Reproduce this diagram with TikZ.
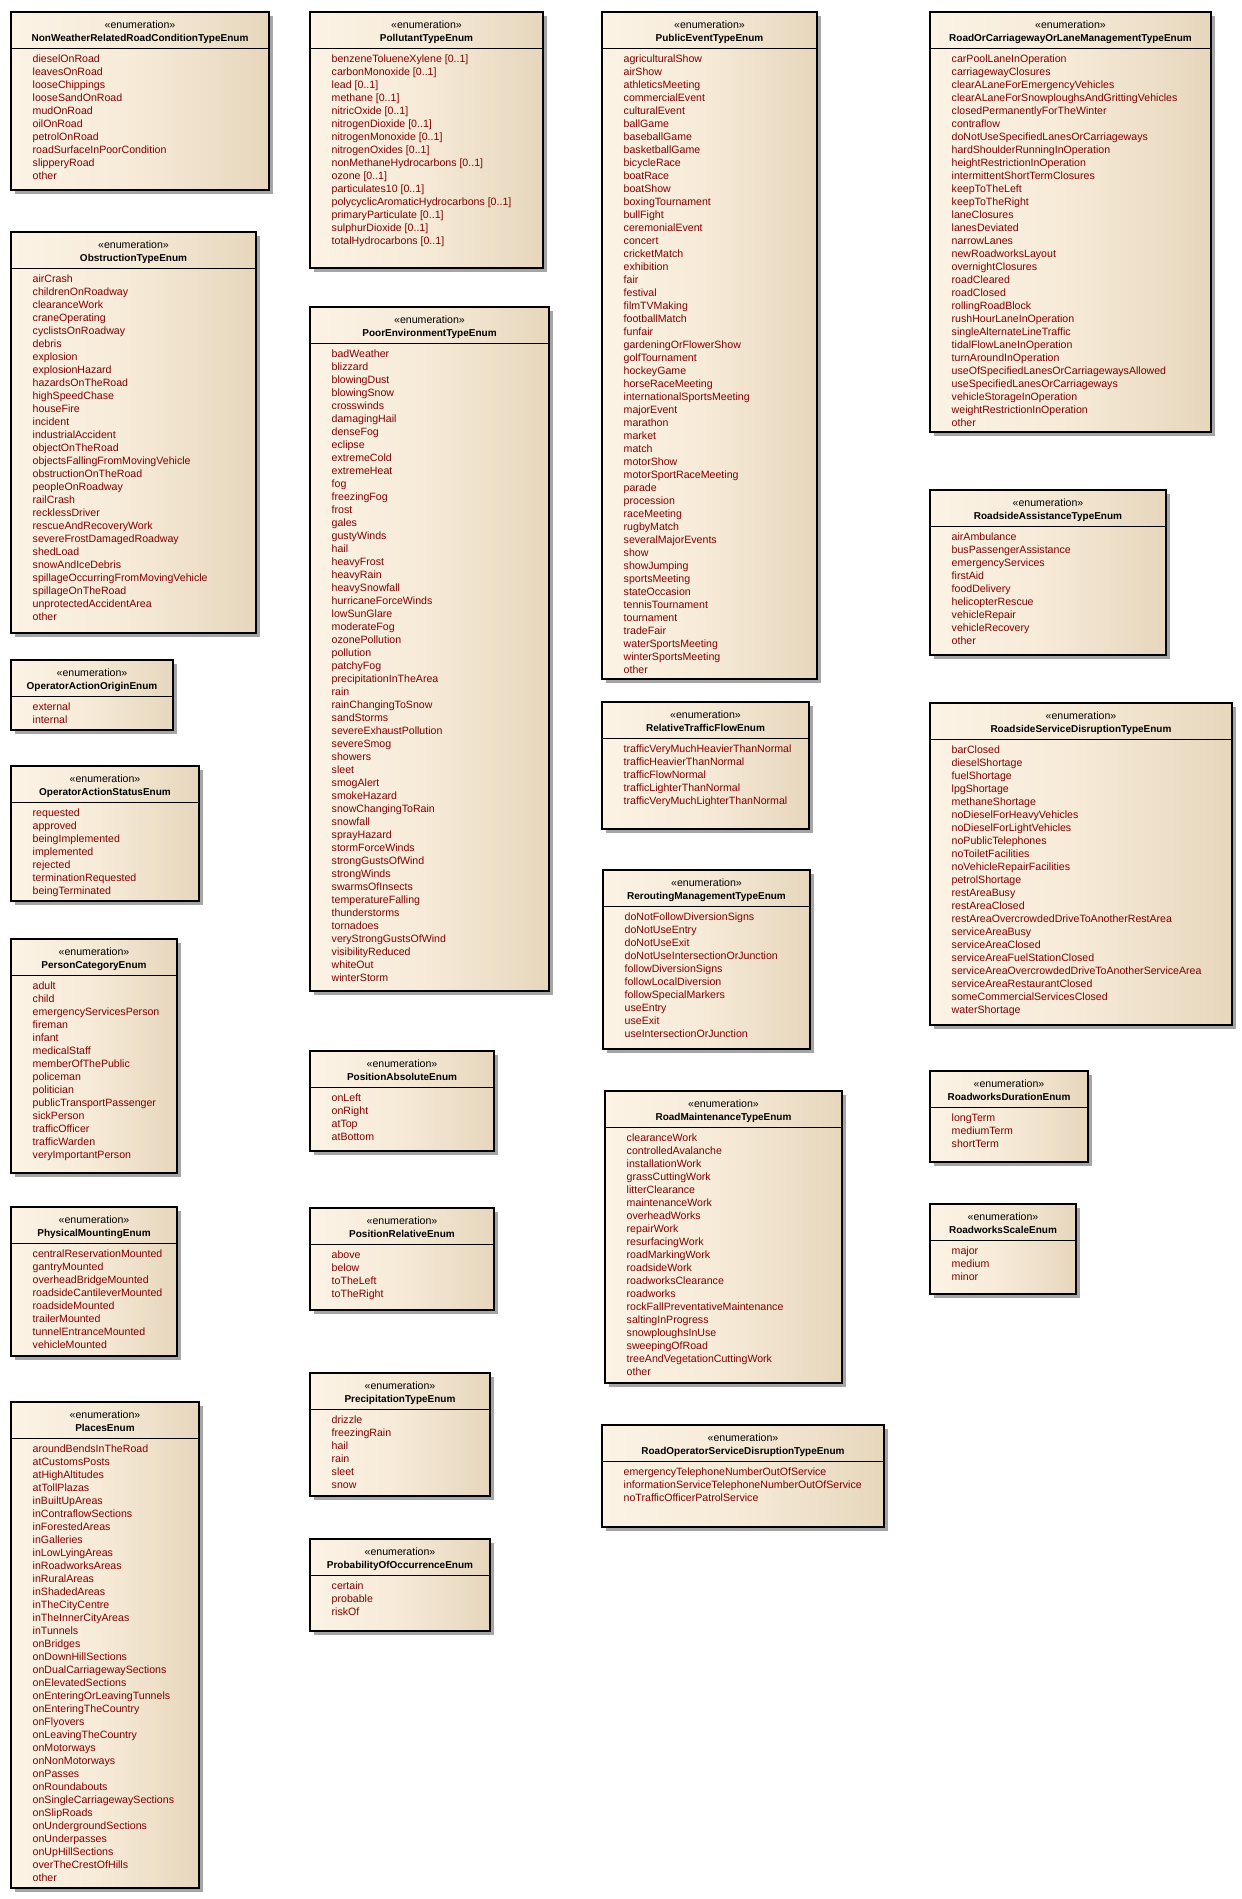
\documentclass[tikz,border=0pt]{standalone}
\usepackage{fontspec}
\setmainfont{Liberation Sans}
\usetikzlibrary{calc}
\definecolor{boxleft}{RGB}{252,243,229}
\definecolor{boxmid}{RGB}{246,234,215}
\definecolor{boxright}{RGB}{230,214,188}
\definecolor{shadowgray}{RGB}{165,165,165}
\definecolor{itemred}{RGB}{128,0,0}
\tikzset{
  enumbox/.style={draw=black, line width=1.1pt, left color=boxleft, right color=boxright, middle color=boxmid, inner sep=0pt, outer sep=0pt},
  stereo/.style={font=\fontsize{10.6}{13}\selectfont, text=black, inner sep=0pt, anchor=base},
  enumname/.style={font=\fontsize{10}{13}\selectfont\bfseries, text=black, inner sep=0pt, anchor=base},
  enumitem/.style={font=\fontsize{10.6}{13}\selectfont, text=itemred, inner sep=0pt, anchor=base west},
  sepline/.style={draw=black, line width=0.9pt},
  boxshadow/.style={fill=shadowgray},
}
\newcommand{\enumbox}[7]{%
  \fill[boxshadow] ({#2+4},{#3+4}) rectangle ({#4+4},{#5+4});
  \node[enumbox, anchor=north west, minimum width={(#4)-(#2)}, minimum height={(#5)-(#3)}] (#1) at (#2,#3) {};
  \draw[sepline] ([yshift=-36.5pt]#1.north west) -- ([yshift=-36.5pt]#1.north east);
  \node[stereo] (#1-stereo) at ([yshift=-16pt]#1.north) {«enumeration»};
  \node[enumname] (#1-name) at ([yshift=-29pt]#1.north) {#6};
  \foreach \t [count=\i] in {#7} {
    \node[enumitem] (#1-\i) at ([xshift=21.5pt, yshift={-50.5pt-(\i-1)*13pt}]#1.north west) {\t};
  }
}
\begin{document}
\begin{tikzpicture}[x=1pt, y=-1pt]
\fill[white] (0,0) rectangle (1242,1899);
\useasboundingbox (0,0) rectangle (1242,1899);

% Column 1
\enumbox{nonweather}{11}{12}{269}{190}{NonWeatherRelatedRoadConditionTypeEnum}{dieselOnRoad, leavesOnRoad, looseChippings, looseSandOnRoad, mudOnRoad, oilOnRoad, petrolOnRoad, roadSurfaceInPoorCondition, slipperyRoad, other}
\enumbox{obstruction}{11}{232}{256}{633}{ObstructionTypeEnum}{airCrash, childrenOnRoadway, clearanceWork, craneOperating, cyclistsOnRoadway, debris, explosion, explosionHazard, hazardsOnTheRoad, highSpeedChase, houseFire, incident, industrialAccident, objectOnTheRoad, objectsFallingFromMovingVehicle, obstructionOnTheRoad, peopleOnRoadway, railCrash, recklessDriver, rescueAndRecoveryWork, severeFrostDamagedRoadway, shedLoad, snowAndIceDebris, spillageOccurringFromMovingVehicle, spillageOnTheRoad, unprotectedAccidentArea, other}
\enumbox{origin}{11}{660}{173}{730}{OperatorActionOriginEnum}{external, internal}
\enumbox{status}{11}{766}{199}{901}{OperatorActionStatusEnum}{requested, approved, beingImplemented, implemented, rejected, terminationRequested, beingTerminated}
\enumbox{person}{11}{939}{177}{1173}{PersonCategoryEnum}{adult, child, emergencyServicesPerson, fireman, infant, medicalStaff, memberOfThePublic, policeman, politician, publicTransportPassenger, sickPerson, trafficOfficer, trafficWarden, veryImportantPerson}
\enumbox{mounting}{11}{1207}{177}{1356}{PhysicalMountingEnum}{centralReservationMounted, gantryMounted, overheadBridgeMounted, roadsideCantileverMounted, roadsideMounted, trailerMounted, tunnelEntranceMounted, vehicleMounted}
\enumbox{places}{11}{1402}{199}{1888}{PlacesEnum}{aroundBendsInTheRoad, atCustomsPosts, atHighAltitudes, atTollPlazas, inBuiltUpAreas, inContraflowSections, inForestedAreas, inGalleries, inLowLyingAreas, inRoadworksAreas, inRuralAreas, inShadedAreas, inTheCityCentre, inTheInnerCityAreas, inTunnels, onBridges, onDownHillSections, onDualCarriagewaySections, onElevatedSections, onEnteringOrLeavingTunnels, onEnteringTheCountry, onFlyovers, onLeavingTheCountry, onMotorways, onNonMotorways, onPasses, onRoundabouts, onSingleCarriagewaySections, onSlipRoads, onUndergroundSections, onUnderpasses, onUpHillSections, overTheCrestOfHills, other}

% Column 2
\enumbox{pollutant}{310}{12}{543}{268}{PollutantTypeEnum}{{benzeneTolueneXylene [0..1]}, {carbonMonoxide [0..1]}, {lead [0..1]}, {methane [0..1]}, {nitricOxide [0..1]}, {nitrogenDioxide [0..1]}, {nitrogenMonoxide [0..1]}, {nitrogenOxides [0..1]}, {nonMethaneHydrocarbons [0..1]}, {ozone [0..1]}, {particulates10 [0..1]}, {polycyclicAromaticHydrocarbons [0..1]}, {primaryParticulate [0..1]}, {sulphurDioxide [0..1]}, {totalHydrocarbons [0..1]}}
\enumbox{poorenv}{310}{307}{549}{991}{PoorEnvironmentTypeEnum}{badWeather, blizzard, blowingDust, blowingSnow, crosswinds, damagingHail, denseFog, eclipse, extremeCold, extremeHeat, fog, freezingFog, frost, gales, gustyWinds, hail, heavyFrost, heavyRain, heavySnowfall, hurricaneForceWinds, lowSunGlare, moderateFog, ozonePollution, pollution, patchyFog, precipitationInTheArea, rain, rainChangingToSnow, sandStorms, severeExhaustPollution, severeSmog, showers, sleet, smogAlert, smokeHazard, snowChangingToRain, snowfall, sprayHazard, stormForceWinds, strongGustsOfWind, strongWinds, swarmsOfInsects, temperatureFalling, thunderstorms, tornadoes, veryStrongGustsOfWind, visibilityReduced, whiteOut, winterStorm}
\enumbox{posabs}{310}{1051}{494}{1151}{PositionAbsoluteEnum}{onLeft, onRight, atTop, atBottom}
\enumbox{posrel}{310}{1208}{494}{1310}{PositionRelativeEnum}{above, below, toTheLeft, toTheRight}
\enumbox{precip}{310}{1373}{490}{1496}{PrecipitationTypeEnum}{drizzle, freezingRain, hail, rain, sleet, snow}
\enumbox{prob}{310}{1539}{490}{1631}{ProbabilityOfOccurrenceEnum}{certain, probable, riskOf}

% Column 3
\enumbox{publicevent}{602}{12}{817}{679}{PublicEventTypeEnum}{agriculturalShow, airShow, athleticsMeeting, commercialEvent, culturalEvent, ballGame, baseballGame, basketballGame, bicycleRace, boatRace, boatShow, boxingTournament, bullFight, ceremonialEvent, concert, cricketMatch, exhibition, fair, festival, filmTVMaking, footballMatch, funfair, gardeningOrFlowerShow, golfTournament, hockeyGame, horseRaceMeeting, internationalSportsMeeting, majorEvent, marathon, market, match, motorShow, motorSportRaceMeeting, parade, procession, raceMeeting, rugbyMatch, severalMajorEvents, show, showJumping, sportsMeeting, stateOccasion, tennisTournament, tournament, tradeFair, waterSportsMeeting, winterSportsMeeting, other}
\enumbox{reltraffic}{602}{702}{809}{829}{RelativeTrafficFlowEnum}{trafficVeryMuchHeavierThanNormal, trafficHeavierThanNormal, trafficFlowNormal, trafficLighterThanNormal, trafficVeryMuchLighterThanNormal}
\enumbox{rerouting}{603}{870}{810}{1049}{ReroutingManagementTypeEnum}{doNotFollowDiversionSigns, doNotUseEntry, doNotUseExit, doNotUseIntersectionOrJunction, followDiversionSigns, followLocalDiversion, followSpecialMarkers, useEntry, useExit, useIntersectionOrJunction}
\enumbox{roadmaint}{605}{1091}{842}{1383}{RoadMaintenanceTypeEnum}{clearanceWork, controlledAvalanche, installationWork, grassCuttingWork, litterClearance, maintenanceWork, overheadWorks, repairWork, resurfacingWork, roadMarkingWork, roadsideWork, roadworksClearance, roadworks, rockFallPreventativeMaintenance, saltingInProgress, snowploughsInUse, sweepingOfRoad, treeAndVegetationCuttingWork, other}
\enumbox{rosd}{602}{1425}{884}{1527}{RoadOperatorServiceDisruptionTypeEnum}{emergencyTelephoneNumberOutOfService, informationServiceTelephoneNumberOutOfService, noTrafficOfficerPatrolService}

% Column 4
\enumbox{lanemgmt}{930}{12}{1211}{432}{RoadOrCarriagewayOrLaneManagementTypeEnum}{carPoolLaneInOperation, carriagewayClosures, clearALaneForEmergencyVehicles, clearALaneForSnowploughsAndGrittingVehicles, closedPermanentlyForTheWinter, contraflow, doNotUseSpecifiedLanesOrCarriageways, hardShoulderRunningInOperation, heightRestrictionInOperation, intermittentShortTermClosures, keepToTheLeft, keepToTheRight, laneClosures, lanesDeviated, narrowLanes, newRoadworksLayout, overnightClosures, roadCleared, roadClosed, rollingRoadBlock, rushHourLaneInOperation, singleAlternateLineTraffic, tidalFlowLaneInOperation, turnAroundInOperation, useOfSpecifiedLanesOrCarriagewaysAllowed, useSpecifiedLanesOrCarriageways, vehicleStorageInOperation, weightRestrictionInOperation, other}
\enumbox{assist}{930}{490}{1166}{655}{RoadsideAssistanceTypeEnum}{airAmbulance, busPassengerAssistance, emergencyServices, firstAid, foodDelivery, helicopterRescue, vehicleRepair, vehicleRecovery, other}
\enumbox{rsd}{930}{703}{1232}{1025}{RoadsideServiceDisruptionTypeEnum}{barClosed, dieselShortage, fuelShortage, lpgShortage, methaneShortage, noDieselForHeavyVehicles, noDieselForLightVehicles, noPublicTelephones, noToiletFacilities, noVehicleRepairFacilities, petrolShortage, restAreaBusy, restAreaClosed, restAreaOvercrowdedDriveToAnotherRestArea, serviceAreaBusy, serviceAreaClosed, serviceAreaFuelStationClosed, serviceAreaOvercrowdedDriveToAnotherServiceArea, serviceAreaRestaurantClosed, someCommercialServicesClosed, waterShortage}
\enumbox{duration}{930}{1071}{1088}{1162}{RoadworksDurationEnum}{longTerm, mediumTerm, shortTerm}
\enumbox{scale}{930}{1204}{1076}{1294}{RoadworksScaleEnum}{major, medium, minor}
\end{tikzpicture}
\end{document}
